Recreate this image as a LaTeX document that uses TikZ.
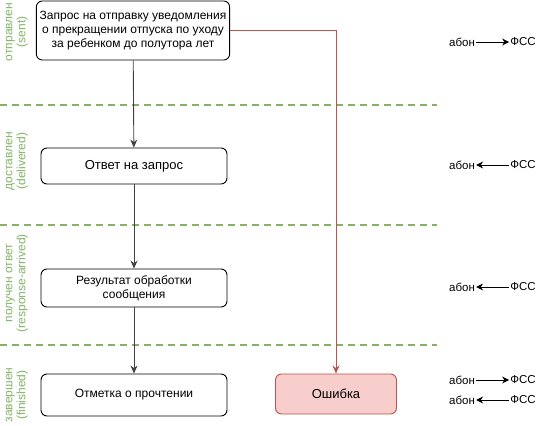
\documentclass[tikz,border=0pt]{standalone}
\usepackage{fontspec}
\setmainfont{Liberation Sans}
\usetikzlibrary{arrows.meta}
\definecolor{lanegreen}{HTML}{82B366}
\definecolor{errfill}{HTML}{F8CECC}
\definecolor{errline}{HTML}{B85450}
\tikzset{
  box/.style={draw, rounded corners=6pt, line width=0.9pt, align=center, font=\fontsize{12}{14}\selectfont},
  lane/.style={rotate=90, align=center, text=lanegreen, font=\fontsize{12}{13}\selectfont},
  lanesep/.style={lanegreen, line width=2pt, dash pattern=on 7pt off 5pt},
  flow/.style={-{Stealth[length=8pt,width=7pt]}, line width=0.9pt, black!75},
  tag/.style={inner sep=1pt, font=\fontsize{11.5}{13}\selectfont},
  dir/.style={-{Stealth[length=7pt,width=7pt]}, line width=0.9pt}
}
\begin{document}
\begin{tikzpicture}[x=1pt, y=-1pt]
\useasboundingbox (0,0) rectangle (547,426);
% swimlane separators
\draw [lanesep] (0,105) to (437,105);
\draw [lanesep] (0,225) to (437,225);
\draw [lanesep] (0,345) to (437,345);
% lane titles
\node [lane] (lsent) at (17,32) {отправлен\\(sent)};
\node [lane] (ldeliv) at (17,161) {доставлен\\(delivered)};
\node [lane] (lresp) at (17,283) {получен ответ\\(response-arrived)};
\node [lane] (lfin) at (17,395) {завершен\\(finished)};
% steps
\node [box, minimum width=192, minimum height=59] (req) at (133,30.5) {Запрос на отправку уведомления\\о прекращении отпуска по уходу\\за ребенком до полутора лет};
\node [box, font=\fontsize{13}{15}\selectfont, minimum width=186, minimum height=36] (answer) at (134,166) {Ответ на запрос};
\node [box, minimum width=186, minimum height=38] (result) at (134,288) {Результат обработки\\сообщения};
\node [box, minimum width=186, minimum height=42] (mark) at (134,395) {Отметка о прочтении};
\node [box, font=\fontsize{13}{15}\selectfont, fill=errfill, draw=errline, minimum width=121, minimum height=40] (err) at (336,394) {Ошибка};
\draw [flow] (req) to (answer);
\draw [flow] (answer) to (result);
\draw [flow] (result) to (mark);
\draw [flow, errline] (req.east) -| (err.north);
% direction of exchange
\node [tag] (ab1) at (462,42) {абон};
\node [tag] (fs1) at (523,42) {ФСС};
\draw [dir] (ab1) to (fs1);
\node [tag] (ab2) at (462,165) {абон};
\node [tag] (fs2) at (523,165) {ФСС};
\draw [dir] (fs2) to (ab2);
\node [tag] (ab3) at (462,287) {абон};
\node [tag] (fs3) at (523,287) {ФСС};
\draw [dir] (fs3) to (ab3);
\node [tag] (ab4) at (462,380) {абон};
\node [tag] (fs4) at (523,380) {ФСС};
\draw [dir] (ab4) to (fs4);
\node [tag] (ab5) at (462,400) {абон};
\node [tag] (fs5) at (523,400) {ФСС};
\draw [dir] (fs5) to (ab5);
\end{tikzpicture}
\end{document}
